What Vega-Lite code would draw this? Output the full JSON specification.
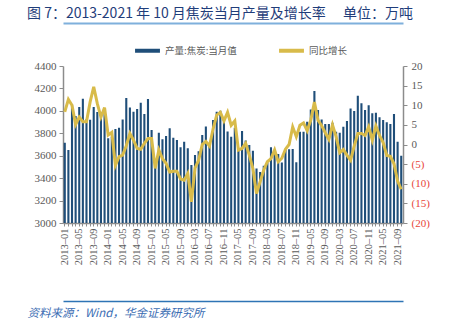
{
  "$schema": "https://vega.github.io/schema/vega-lite/v6.json",
  "width": 340,
  "height": 157,
  "autosize": {"type": "none"},
  "padding": {"left": 63, "top": 66, "right": 46, "bottom": 111},
  "background": "white",
  "title": {
    "text": "图 7：2013-2021 年 10 月焦炭当月产量及增长率　 单位：万吨",
    "anchor": "start",
    "frame": "group",
    "dx": -36,
    "dy": 12,
    "offset": 3,
    "baseline": "alphabetic",
    "font": "Noto Sans CJK SC",
    "fontSize": 14,
    "fontWeight": "normal",
    "color": "#1f3d7a"
  },
  "config": {
    "view": {"stroke": null},
    "axis": {"grid": false, "labelFont": "Liberation Serif", "labelFontSize": 11, "labelColor": "#595959", "domainColor": "#8c8c8c", "domainWidth": 1.5, "tickColor": "#8c8c8c", "tickSize": 4}
  },
  "data": {
    "values": [
      {"m": "2013-01", "v": 3715, "g": 8.3},
      {"m": "2013-02", "v": 3650, "g": 11.5},
      {"m": "2013-03", "v": 4058, "g": 10.0},
      {"m": "2013-04", "v": 3955, "g": 5.1},
      {"m": "2013-05", "v": 4035, "g": 7.0},
      {"m": "2013-06", "v": 4108, "g": 5.8},
      {"m": "2013-07", "v": 3925, "g": 5.8},
      {"m": "2013-08", "v": 3920, "g": 10.8},
      {"m": "2013-09", "v": 4035, "g": 14.7},
      {"m": "2013-10", "v": 3990, "g": 10.4},
      {"m": "2013-11", "v": 3960, "g": 7.0},
      {"m": "2013-12", "v": 4000, "g": 9.4},
      {"m": "2014-01", "v": 3755, "g": 2.4},
      {"m": "2014-02", "v": 3770, "g": 3.1},
      {"m": "2014-03", "v": 3838, "g": -5.3},
      {"m": "2014-04", "v": 3850, "g": -3.1},
      {"m": "2014-05", "v": 3924, "g": -2.7},
      {"m": "2014-06", "v": 4115, "g": -0.3},
      {"m": "2014-07", "v": 4031, "g": 2.8},
      {"m": "2014-08", "v": 3993, "g": 1.1},
      {"m": "2014-09", "v": 4016, "g": -1.0},
      {"m": "2014-10", "v": 4073, "g": -1.2},
      {"m": "2014-11", "v": 3972, "g": 0.3},
      {"m": "2014-12", "v": 4105, "g": 1.5},
      {"m": "2015-01", "v": 3829, "g": 1.5},
      {"m": "2015-02", "v": 3490, "g": -6.1},
      {"m": "2015-03", "v": 3805, "g": -1.4},
      {"m": "2015-04", "v": 3746, "g": -3.6},
      {"m": "2015-05", "v": 3776, "g": -4.8},
      {"m": "2015-06", "v": 3844, "g": -7.0},
      {"m": "2015-07", "v": 3761, "g": -6.8},
      {"m": "2015-08", "v": 3740, "g": -6.8},
      {"m": "2015-09", "v": 3675, "g": -8.8},
      {"m": "2015-10", "v": 3725, "g": -9.1},
      {"m": "2015-11", "v": 3666, "g": -7.4},
      {"m": "2015-12", "v": 3517, "g": -14.6},
      {"m": "2016-03", "v": 3606, "g": -6.0},
      {"m": "2016-04", "v": 3640, "g": -4.0},
      {"m": "2016-05", "v": 3785, "g": 0.0},
      {"m": "2016-06", "v": 3860, "g": 0.8},
      {"m": "2016-07", "v": 3700, "g": -0.4},
      {"m": "2016-08", "v": 3919, "g": 4.0},
      {"m": "2016-09", "v": 3993, "g": 7.5},
      {"m": "2016-10", "v": 4002, "g": 8.2},
      {"m": "2016-11", "v": 3900, "g": 6.0},
      {"m": "2016-12", "v": 3815, "g": 8.2},
      {"m": "2017-03", "v": 3770, "g": 4.9},
      {"m": "2017-04", "v": 3850, "g": 6.0},
      {"m": "2017-05", "v": 3645, "g": -1.4},
      {"m": "2017-06", "v": 3820, "g": -1.0},
      {"m": "2017-07", "v": 3735, "g": 0.3},
      {"m": "2017-08", "v": 3695, "g": -2.7},
      {"m": "2017-09", "v": 3645, "g": -6.1},
      {"m": "2017-10", "v": 3485, "g": -12.5},
      {"m": "2017-11", "v": 3455, "g": -9.5},
      {"m": "2017-12", "v": 3510, "g": -6.5},
      {"m": "2018-03", "v": 3540, "g": -4.4},
      {"m": "2018-04", "v": 3675, "g": -3.6},
      {"m": "2018-05", "v": 3650, "g": -1.4},
      {"m": "2018-06", "v": 3615, "g": -4.4},
      {"m": "2018-07", "v": 3540, "g": -3.5},
      {"m": "2018-08", "v": 3651, "g": -1.2},
      {"m": "2018-09", "v": 3657, "g": 0.0},
      {"m": "2018-10", "v": 3660, "g": 4.5},
      {"m": "2018-11", "v": 3541, "g": 2.0},
      {"m": "2018-12", "v": 3814, "g": 4.9},
      {"m": "2019-03", "v": 3814, "g": 5.5},
      {"m": "2019-04", "v": 3903, "g": 3.5},
      {"m": "2019-05", "v": 4013, "g": 6.2},
      {"m": "2019-06", "v": 4177, "g": 10.8},
      {"m": "2019-07", "v": 4008, "g": 6.2},
      {"m": "2019-08", "v": 3924, "g": 4.8},
      {"m": "2019-09", "v": 3883, "g": 3.0},
      {"m": "2019-10", "v": 3883, "g": 1.3},
      {"m": "2019-11", "v": 3895, "g": 5.0},
      {"m": "2019-12", "v": 3814, "g": 2.0},
      {"m": "2020-03", "v": 3805, "g": -2.1},
      {"m": "2020-04", "v": 3859, "g": -1.3},
      {"m": "2020-05", "v": 3909, "g": -2.7},
      {"m": "2020-06", "v": 4022, "g": -4.0},
      {"m": "2020-07", "v": 3999, "g": -0.4},
      {"m": "2020-08", "v": 4135, "g": 2.8},
      {"m": "2020-09", "v": 4067, "g": 2.8},
      {"m": "2020-10", "v": 4007, "g": 2.3},
      {"m": "2020-11", "v": 4049, "g": 4.5},
      {"m": "2020-12", "v": 3978, "g": 1.1},
      {"m": "2021-03", "v": 3984, "g": 4.7},
      {"m": "2021-04", "v": 3942, "g": 2.3},
      {"m": "2021-05", "v": 3918, "g": 0.5},
      {"m": "2021-06", "v": 3898, "g": -2.8},
      {"m": "2021-07", "v": 3883, "g": -3.0},
      {"m": "2021-08", "v": 3972, "g": -4.9},
      {"m": "2021-09", "v": 3725, "g": -9.3},
      {"m": "2021-10", "v": 3600, "g": -11.4}
    ]
  },
  "layer": [
    {
      "mark": {"type": "bar", "clip": true},
      "encoding": {
        "x": {
          "field": "m", "type": "ordinal",
          "scale": {"paddingInner": 0.42, "paddingOuter": 0.2},
          "axis": {
            "orient": "bottom", "title": null, "labelAngle": 270, "labelFontSize": 10.5, "labelPadding": 2, "tickSize": 3, "labelOverlap": false,
            "labelExpr": "indexof(['2013-01','2013-05','2013-09','2014-01','2014-05','2014-09','2015-01','2015-05','2015-09','2016-03','2016-07','2016-11','2017-05','2017-09','2018-03','2018-07','2018-11','2019-05','2019-09','2020-03','2020-07','2020-11','2021-05','2021-09'], datum.value) >= 0 ? replace(datum.value, '-', '–') : ''"
          }
        },
        "y": {
          "field": "v", "type": "quantitative",
          "scale": {"domain": [3000, 4400], "nice": false, "zero": false},
          "axis": {"orient": "left", "title": null, "format": "d", "values": [3000, 3200, 3400, 3600, 3800, 4000, 4200, 4400], "labelPadding": 3}
        },
        "color": {
          "datum": "产量:焦炭:当月值", "type": "nominal",
          "scale": {"domain": ["产量:焦炭:当月值", "同比增长"], "range": ["#1f4e79", "#d8bb4a"]},
          "legend": {
            "orient": "none", "legendX": 70, "legendY": -30, "direction": "horizontal", "title": null,
            "symbolType": "stroke", "symbolSize": 620, "symbolStrokeWidth": 4,
            "labelFont": "Noto Sans CJK SC", "labelFontSize": 9.5, "labelColor": "#595959", "labelOffset": 3, "columnPadding": 34,
            "encode": {"symbols": {"update": {"stroke": {"scale": "color", "field": "value"}, "strokeWidth": {"value": 4}, "opacity": {"value": 1}}}}
          }
        }
      }
    },
    {
      "mark": {"type": "line", "strokeWidth": 3},
      "encoding": {
        "x": {
          "field": "m", "type": "ordinal",
          "axis": {"orient": "top", "offset": 43, "labels": false, "ticks": false, "title": null, "domainColor": "#7fb0dc", "domainWidth": 2}
        },
        "y": {
          "field": "g", "type": "quantitative",
          "scale": {"domain": [-20, 20], "nice": false, "zero": false},
          "axis": {
            "orient": "right", "title": null, "values": [-20, -15, -10, -5, 0, 5, 10, 15, 20], "labelPadding": 4,
            "labelExpr": "datum.value < 0 ? '(' + (-datum.value) + ')' : datum.label",
            "labelColor": {"condition": {"test": "datum.value < 0", "value": "#e8443a"}, "value": "#595959"}
          }
        },
        "color": {"datum": "同比增长", "type": "nominal"}
      }
    },
    {
      "mark": {"type": "tick", "opacity": 0},
      "encoding": {
        "x": {
          "field": "m", "type": "ordinal",
          "axis": {
            "orient": "bottom", "offset": 78, "labels": false, "ticks": false, "domainColor": "#2e74b5", "domainWidth": 1.5,
            "title": "资料来源：Wind，华金证券研究所", "titleFont": "Noto Sans CJK SC", "titleFontSize": 11.5, "titleFontStyle": "italic", "titleFontWeight": "normal",
            "titleColor": "#3b6db3", "titleAnchor": "start", "titleAlign": "left", "titleBaseline": "alphabetic", "titleX": -36, "titleY": 15
          }
        }
      }
    }
  ],
  "resolve": {"scale": {"y": "independent"}, "axis": {"x": "independent", "y": "independent"}}
}
